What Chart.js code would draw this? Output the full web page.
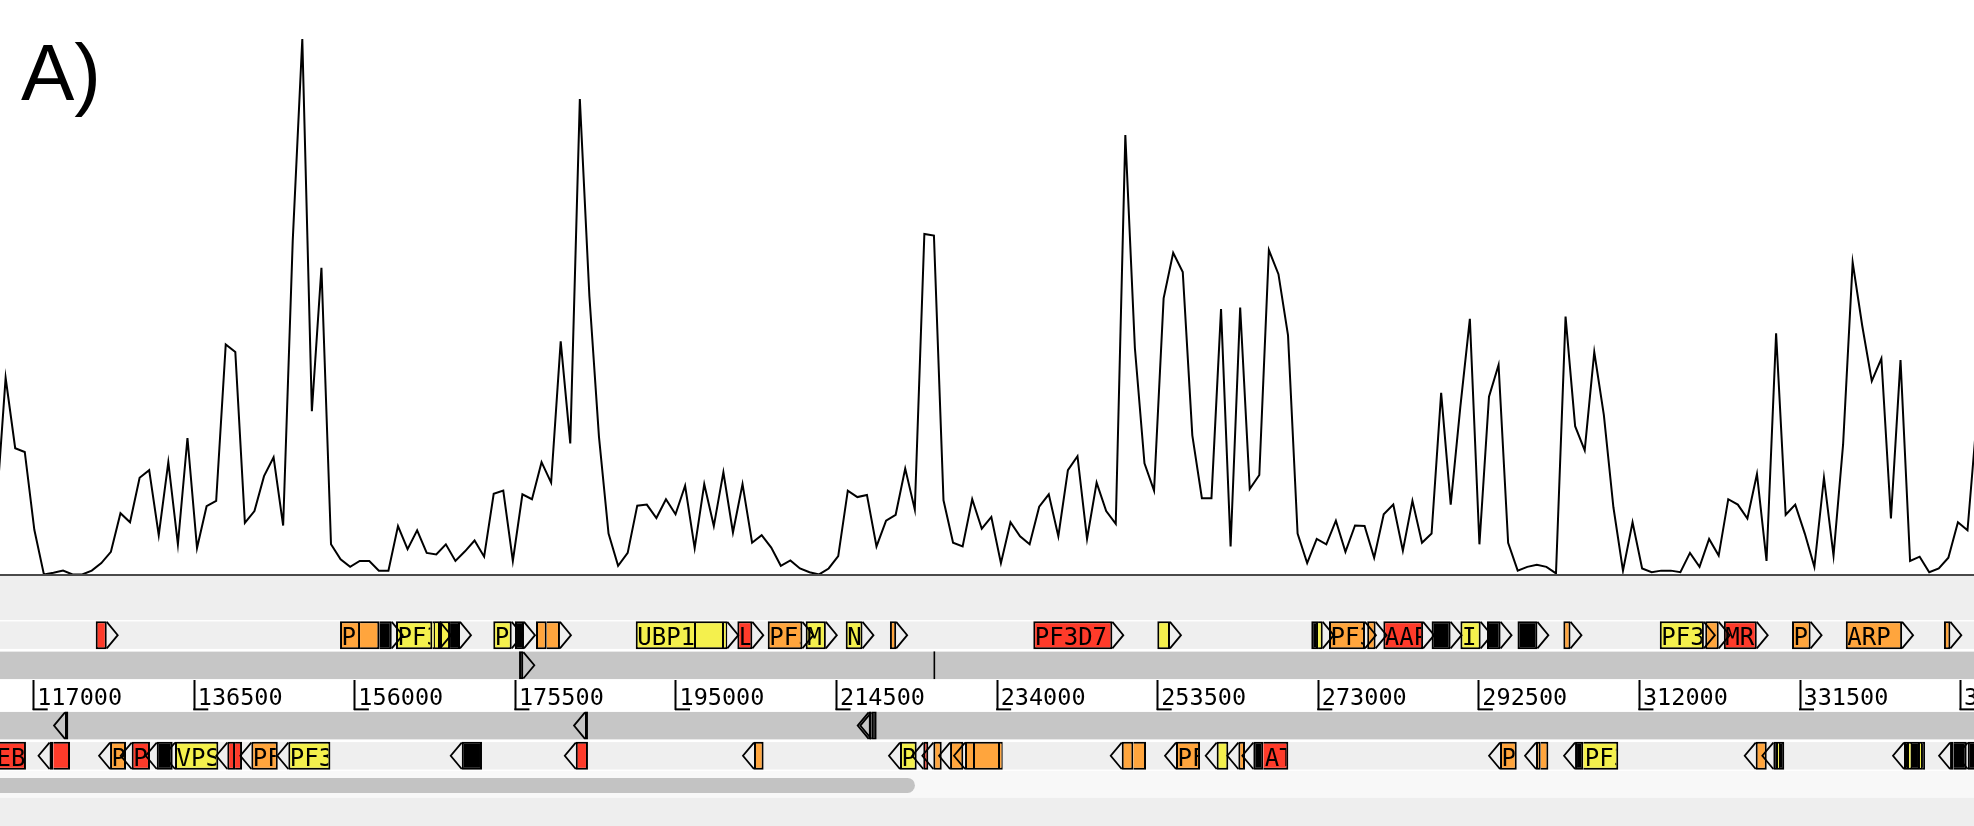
<!DOCTYPE html>
<html><head><meta charset="utf-8">
<script src="https://cdn.jsdelivr.net/npm/chart.js@4.4.1/dist/chart.umd.min.js"></script>
<style>
html,body{margin:0;padding:0;background:#fff;}
#wrap{position:relative;width:1974px;height:826px;overflow:hidden;background:#fff;}
#lineCanvas{position:absolute;left:0;top:0;}
#panelCanvas{position:absolute;left:0;top:574px;}
#panelLabel{position:absolute;left:21px;top:33px;font-family:'Liberation Sans',Arial,sans-serif;font-size:80px;line-height:80px;color:#000;}
</style></head><body>
<div id="wrap">
<canvas id="lineCanvas" width="1974" height="576"></canvas>
<canvas id="panelCanvas" width="1974" height="252"></canvas>
<div id="panelLabel">A)</div>
</div>
<script>
// ---------- data ----------
const viewStart = 112907, viewEnd = 352630;          // visible sequence range (bp)
const binStart = 112428, binStep = 1162.2;           // graph window positions (bp)
const graphValues = [
 11.7,
 36.9,23.8,23.1,8.6,0.3,0.6,1.0,0.3,0.3,1.0,
 2.4,4.5,11.7,10.0,18.3,19.7,7.6,21.2,5.9,25.7,
 5.2,13.0,14.0,43.1,41.7,9.9,12.1,18.6,22.1,9.4,
 62.4,100,30.7,57.4,5.9,3.1,1.7,2.8,2.8,1.0,
 1.0,9.3,5.0,8.5,4.3,4.0,5.9,2.8,4.6,6.6,
 3.6,15.3,15.9,2.8,15.2,14.3,21.2,17.4,43.7,24.7,
 88.8,52.1,25.9,7.9,1.9,4.3,13.1,13.3,10.8,14.3,
 11.5,16.8,5.2,17.1,9.3,19.3,8.1,17.1,6.2,7.6,
 5.3,1.9,2.9,1.4,0.7,0.3,1.4,3.7,15.9,14.7,
 15.1,5.5,10.3,11.4,20.0,12.4,63.7,63.4,14.1,6.2,
 5.5,14.3,8.8,11.0,2.4,10.0,7.4,5.9,12.9,15.2,
 7.4,19.7,22.3,6.9,17.4,12.1,9.7,82.1,42.4,21.0,
 15.9,51.7,60.2,56.6,26.2,14.5,14.5,49.7,5.5,50.0,
 16.2,18.8,60.7,56.2,44.8,7.9,2.4,6.9,5.9,10.3,
 4.5,9.4,9.3,3.4,11.5,13.3,4.7,14.0,6.2,7.9,
 34.1,13.3,31.4,47.9,5.9,33.4,39.3,6.2,1.0,1.7,
 2.1,1.7,0.5,48.3,27.9,23.4,41.7,30.0,12.8,1.0,
 10.0,1.4,0.7,1.0,1.0,0.7,4.3,1.7,6.9,3.8,
 14.3,13.3,10.7,19.0,2.8,45.2,11.4,13.3,7.9,1.7,
 18.3,3.8,24.5,58.4,46.6,36.3,40.5,10.7,40.2,2.8,
 3.6,0.7,1.4,3.4,10.0,8.5,30.0
];
const graphMax = 107.26;
const rulerTicks = [117000,136500,156000,175500,195000,214500,234000,253500,273000,292500,312000,331500,351000];
const trackNames = ['gap','fwd','fwdBand','ruler','revBand','rev','scroll'];

// [start, end, colour, label, arrow, continuation]
const fwdGenes = [
 [124530,125870,'R','',1,0],
 [154200,156630,'O','PF3D7',0,0],[156630,158970,'O','',0,1],[158970,160480,'K','',1,1],
 [161000,165410,'Y','PF3D7',0,0],[165410,165730,'Y','',0,1],[165730,166340,'Y','',1,1],
 [166340,167560,'Y','',0,0],[167560,168770,'K','',1,1],
 [172810,175050,'Y','PF3D7',1,0],
 [175450,176540,'K','',1,0],
 [178000,179300,'O','',0,0],[179300,180910,'O','',1,1],
 [190110,197430,'Y','UBP1',0,0],[197430,200830,'Y','',0,1],[200830,201230,'Y','',1,1],
 [202450,204270,'R','L',1,0],
 [206140,210350,'O','PF3D7',1,0],
 [210750,213200,'Y','M',1,0],
 [215610,217650,'Y','N',1,0],
 [220980,221740,'O','',1,0],
 [238390,247990,'R','PF3D7',1,0],
 [253450,254990,'Y','',1,0],
 [272150,272970,'K','',0,0],[272970,273540,'Y','',1,1],
 [274300,278670,'O','PF3D7',1,0],
 [278940,279960,'O','',1,0],
 [280900,285730,'R','AAP',1,0],
 [286760,289070,'K','',1,0],
 [290260,292720,'Y','I',1,0],
 [293490,295140,'K','',1,0],
 [297190,299610,'K','',1,0],
 [302760,303630,'O','',1,0],
 [314470,319830,'Y','PF3D7',1,0],
 [319990,321630,'O','',1,0],
 [322250,326250,'R','MR',1,0],
 [330530,332790,'O','PF3D7',1,0],
 [337060,343900,'O','ARP',1,0],
 [348980,349760,'O','',1,0]
];
const fwdBandGenes = [
 [175940,176460,'K','',1,0],
 [226250,226500,'Y','',0,0]
];
const revBandGenes = [
 [120800,121200,'K','',1,0],
 [183950,184310,'W','',1,0],
 [218400,218720,'W','',1,0],
 [218720,219370,'K','',1,0]
];
const revGenes = [
 [112300,116060,'R','EBA',1,0],
 [118920,119380,'K','',1,0],[119380,121410,'R','',0,1],
 [126270,128210,'O','PF3D7',1,0],
 [128900,131120,'R','PF3D7',1,0],
 [131940,133880,'K','',1,0],
 [134160,139420,'Y','VPS',1,0],
 [140510,141450,'R','',1,0],[141450,142300,'R','',0,1],
 [143430,146640,'O','PF3D7',1,0],
 [147920,153030,'Y','PF3D7',1,0],
 [168980,171440,'K','',1,0],
 [182830,184310,'R','',1,0],
 [204470,205640,'O','',1,0],
 [222200,224230,'Y','PF3D7',1,0],
 [225030,225640,'R','',1,0],
 [226250,227270,'O','',1,0],
 [228280,229890,'O','',1,0],
 [230100,231310,'O','',1,0],[231310,234350,'O','',0,1],[234350,234680,'O','',0,1],
 [249130,250540,'O','',1,0],[250540,252080,'O','',0,1],
 [255720,258640,'O','PF3D7',1,0],
 [260660,262070,'Y','',1,0],
 [263290,264100,'O','',1,0],
 [265110,266320,'K','',1,0],[266320,269360,'R','AT',0,1],
 [295070,297100,'O','PF3D7',1,0],
 [299440,300010,'O','',1,0],[300010,300940,'O','',0,1],
 [304180,305180,'K','',1,0],[305180,309430,'Y','PF3D7',0,1],
 [326120,327460,'O','',1,0],
 [328260,328830,'K','',1,0],[328830,329070,'Y','',0,1],[329070,329590,'K','',0,1],
 [344130,344740,'K','',1,0],[344740,345100,'Y','',0,1],[345100,346070,'K','',0,1],[346070,346320,'Y','',0,1],[346320,346680,'K','',0,1],
 [349720,350120,'O','',1,0],[350120,351740,'K','',0,1],
 [351870,353200,'K','',1,0]
];

// ---------- styles ----------
const colourKey = {Y:'#f4f04d', O:'#ffa53d', R:'#fe3b2a', K:'#000000', W:'#ffffff'};
const tracks = [
 {name:'fwd', genes:fwdGenes, dir:1},
 {name:'fwdBand', genes:fwdBandGenes, dir:1},
 {name:'revBand', genes:revBandGenes, dir:-1},
 {name:'rev', genes:revGenes, dir:-1}
];

// ---------- graph ----------
const linePoints = graphValues.map((v, i) => ({x: binStart + i * binStep, y: v}));
new Chart(document.getElementById('lineCanvas'), {
  type: 'line',
  data: {datasets: [{data: linePoints, borderColor: '#000', borderWidth: 2, pointRadius: 0, tension: 0, fill: false}]},
  options: {
    responsive: false, devicePixelRatio: 1, animation: false,
    layout: {padding: 0},
    plugins: {legend: {display: false}, tooltip: {enabled: false}},
    scales: {
      x: {type: 'linear', min: viewStart, max: viewEnd, display: false},
      y: {min: 0, max: graphMax, display: false}
    }
  }
});

// ---------- feature panel ----------
const panelBg = {
  id: 'panelBg',
  beforeDraw(chart) {
    const {ctx, width, height} = chart;
    const y = chart.scales.y;
    const half = (y.getPixelForValue(1) - y.getPixelForValue(0)) / 2;
    const c = n => y.getPixelForValue(trackNames.indexOf(n));
    ctx.save();
    ctx.fillStyle = '#ffffff'; ctx.fillRect(0, 0, width, height);
    ctx.fillStyle = '#eeeeee'; ctx.fillRect(0, 2, width, c('fwd') - half - 2);
    ctx.fillStyle = '#4a4a4a'; ctx.fillRect(0, 0, width, 2);
    [['fwd','#efefef'],['fwdBand','#c6c6c6'],['revBand','#c6c6c6'],['rev','#efefef']].forEach(([n, col]) => {
      ctx.fillStyle = col; ctx.fillRect(0, c(n) - half + 1.4, width, 2 * half - 2.7);
    });
    const sc = c('scroll'), revBottom = c('rev') + half;
    ctx.fillStyle = '#f8f8f8'; ctx.fillRect(0, revBottom, width, sc + 12 - revBottom);
    ctx.fillStyle = '#eeeeee'; ctx.fillRect(0, sc + 12, width, height - sc - 12);
    ctx.fillStyle = '#c3c3c3';
    ctx.beginPath();
    const tw = width * 0.4635;
    if (ctx.roundRect) ctx.roundRect(0, sc - 8, tw, 15, [0, 7.5, 7.5, 0]); else ctx.rect(0, sc - 8, tw, 15);
    ctx.fill();
    ctx.restore();
  },
  afterDatasetsDraw(chart) {
    const ctx = chart.ctx;
    tracks.forEach((t, d) => {
      const meta = chart.getDatasetMeta(d);
      meta.data.forEach((bar, i) => {
        const g = t.genes[i];
        const p = bar.getProps(['x', 'base', 'y', 'height'], true);
        const left = Math.min(p.x, p.base), right = Math.max(p.x, p.base);
        const top = p.y - p.height / 2, bottom = p.y + p.height / 2;
        if (g[4]) {
          const bx = t.dir > 0 ? right : left;
          ctx.save();
          ctx.strokeStyle = '#000'; ctx.lineWidth = 1.8; ctx.lineJoin = 'miter';
          ctx.beginPath();
          ctx.moveTo(bx, top + 0.8); ctx.lineTo(bx + t.dir * 11, p.y); ctx.lineTo(bx, bottom - 0.8);
          ctx.stroke();
          ctx.restore();
        }
        if (g[3]) {
          ctx.save();
          ctx.beginPath(); ctx.rect(left + 2, top, right - left - 4, p.height); ctx.clip();
          ctx.fillStyle = '#000'; ctx.font = "24px 'DejaVu Sans Mono'";
          ctx.textAlign = 'left'; ctx.textBaseline = 'alphabetic';
          ctx.fillText(g[3], left + 1.5, p.y + 10);
          ctx.restore();
        }
      });
    });
  },
  afterDraw(chart) {
    const {ctx} = chart;
    const xs = chart.scales.x, y = chart.scales.y;
    const footY = y.getPixelForValue(2.5) + 30 - 1;
    ctx.save();
    ctx.strokeStyle = '#000'; ctx.lineWidth = 2;
    xs.ticks.forEach(t => {
      const px = xs.getPixelForValue(t.value);
      ctx.beginPath(); ctx.moveTo(px - 1, footY); ctx.lineTo(px + 14, footY); ctx.stroke();
    });
    ctx.restore();
  }
};

new Chart(document.getElementById('panelCanvas'), {
  type: 'bar',
  data: {
    labels: trackNames,
    datasets: tracks.map(t => ({
      label: t.name,
      data: t.genes.map(g => ({x: [g[0], g[1]], y: t.name})),
      backgroundColor: t.genes.map(g => colourKey[g[2]]),
      borderColor: '#000',
      borderWidth: 2,
      borderSkipped: t.genes.map(g => g[5] ? 'left' : false),
      barThickness: 28,
      grouped: false,
      inflateAmount: 0
    }))
  },
  options: {
    responsive: false, devicePixelRatio: 1, animation: false, indexAxis: 'y',
    layout: {padding: {top: 15.9, bottom: 25, left: 0, right: 0}},
    plugins: {legend: {display: false}, tooltip: {enabled: false}},
    scales: {
      x: {
        type: 'linear', min: viewStart, max: viewEnd, position: {y: 2.5},
        afterBuildTicks: s => { s.ticks = rulerTicks.map(v => ({value: v})); },
        afterFit: s => { s.paddingLeft = 0; s.paddingRight = 0; s.height = 0; },
        border: {display: false},
        grid: {display: true, drawOnChartArea: false, drawTicks: true, tickLength: 30, tickWidth: 2, tickColor: '#000'},
        ticks: {align: 'start', labelOffset: 3.5, padding: -26, color: '#000',
                font: {family: "'DejaVu Sans Mono'", size: 23.5},
                maxRotation: 0, minRotation: 0, autoSkip: false,
                callback: v => String(v)}
      },
      y: {type: 'category', labels: trackNames, display: false, offset: true, grid: {display: false}}
    }
  },
  plugins: [panelBg]
});
</script>
</body></html>
